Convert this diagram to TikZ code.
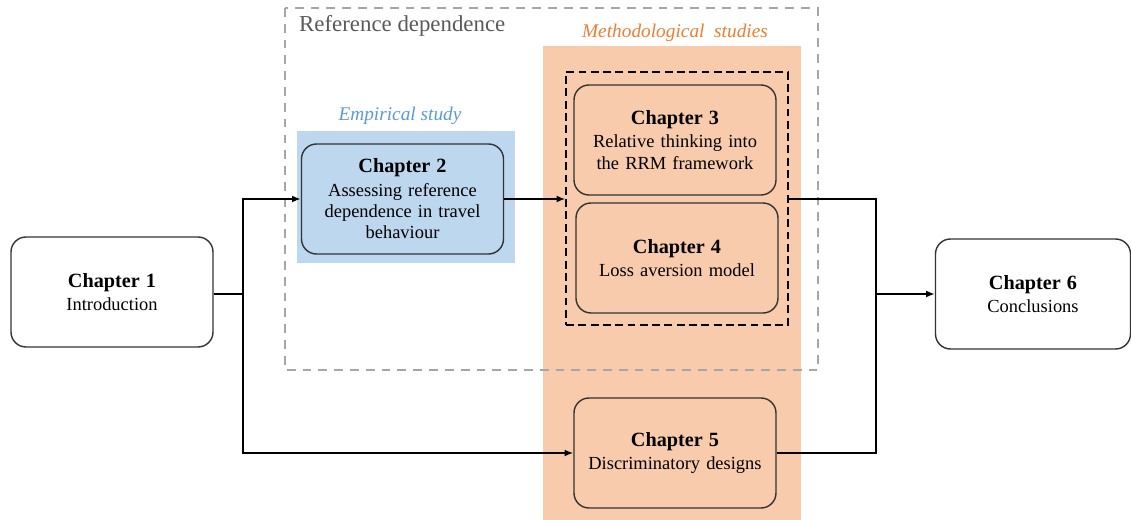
\documentclass[tikz,border=0pt]{standalone}
\usepackage{fontspec}
\setmainfont{Liberation Serif}
\usetikzlibrary{arrows.meta,calc}
\definecolor{empblue}{RGB}{189,215,238}
\definecolor{empbluetext}{RGB}{91,155,213}
\definecolor{methorange}{RGB}{248,203,173}
\definecolor{methorangetext}{RGB}{237,125,49}
\definecolor{refgray}{RGB}{89,89,89}
\definecolor{refgrayline}{RGB}{166,166,166}
\tikzset{
    >={Latex[length=5pt,width=4pt]},
    thesis/.style={
        chap/.append style={align=center,draw=black!80,line width=0.8pt,rectangle,rounded corners=0.3cm,text width=3.6cm,minimum width=4.04cm,minimum height=2.2cm,font=\fontsize{10.5}{12.2}\selectfont},
        lbl/.append style={font=\fontsize{11}{13}\selectfont\itshape},
        group/.append style={draw,line width=0.8pt,dash pattern=on 4.5pt off 2.5pt,inner sep=0pt},
        link/.append style={line width=1pt}
    }
}
\begin{document}
\begin{tikzpicture}[thesis]
    \useasboundingbox (0,0) rectangle (22.62,-10.4);

    % backgrounds
    \fill[methorange] (10.86,-0.92) rectangle (16.02,-10.4);
    \fill[empblue] (5.94,-2.62) rectangle (10.3,-5.26);
    \draw[refgrayline,line width=0.8pt,dash pattern=on 5pt off 4pt] (5.7,-0.16) rectangle (16.36,-7.4);

    \node[anchor=west,text=refgray,font=\fontsize{13}{15}\selectfont] (ref) at (5.86,-0.52) {Reference dependence};
    \node[lbl,text=methorangetext] (meth) at (13.5,-0.66) {Methodological\ \ studies};
    \node[lbl,text=empbluetext] (emp) at (8.0,-2.32) {Empirical study};

    \node[group,minimum width=4.44cm,minimum height=5.06cm] (grp) at (13.54,-3.97) {};

    \node[chap,fill=white] (c1) at (2.24,-5.84) {\textbf{\fontsize{11.5}{13}\selectfont Chapter 1}\\[1pt]Introduction};
    \node[chap,fill=empblue] (c2) at (8.05,-3.98) {\textbf{\fontsize{11.5}{13}\selectfont Chapter 2}\\[1pt]Assessing reference\\dependence in travel\\behaviour};
    \node[chap,fill=methorange] (c3) at (13.5,-2.8) {\textbf{\fontsize{11.5}{13}\selectfont Chapter 3}\\[1pt]Relative thinking into\\the RRM framework};
    \node[chap,fill=methorange] (c4) at (13.54,-5.16) {\textbf{\fontsize{11.5}{13}\selectfont Chapter 4}\\[1pt]Loss aversion model};
    \node[chap,fill=methorange] (c5) at (13.5,-9.06) {\textbf{\fontsize{11.5}{13}\selectfont Chapter 5}\\[1pt]Discriminatory designs};
    \node[chap,fill=white,minimum width=3.9cm] (c6) at (20.66,-5.88) {\textbf{\fontsize{11.5}{13}\selectfont Chapter 6}\\[1pt]Conclusions};

    \coordinate (split) at (4.86,-5.88);
    \coordinate (join) at (17.52,-5.88);

    \draw[link] (c1.east |- split) -- (split);
    \draw[link,->] (split) |- (c2.west);
    \draw[link,->] (split) |- (c5.west);
    \draw[link,->] (c2.east) -- (c2.east -| grp.west);
    \draw[link] (grp.east |- c2.east) -| (join);
    \draw[link] (c5.east) -| (join);
    \draw[link,->] (join) -- (c6.west);
\end{tikzpicture}
\end{document}
